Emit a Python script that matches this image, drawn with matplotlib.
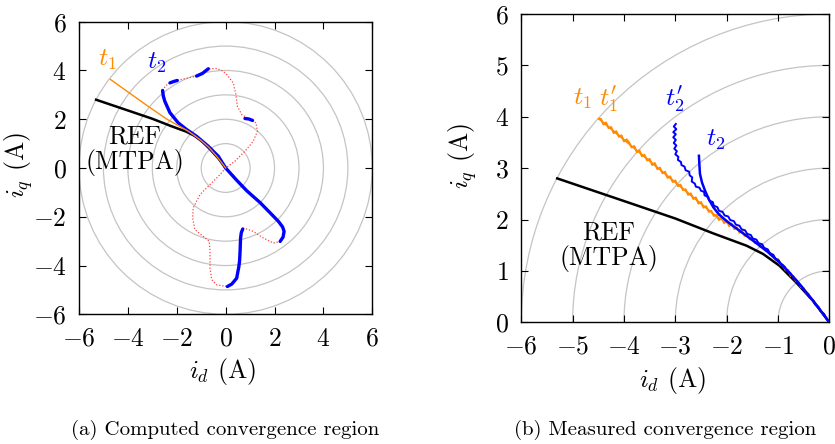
import numpy as np
import matplotlib
matplotlib.use("Agg")
import matplotlib.pyplot as plt
from matplotlib.patches import Circle

plt.rcParams['font.family'] = ['cmr10']
plt.rcParams['mathtext.fontset'] = 'cm'
plt.rcParams['axes.formatter.use_mathtext'] = True

ORANGE = '#ff8a00'
BLUE = '#0000ff'
RED = '#ff4040'
GRID = '#c4c4c4'

circle_radii = [1, 2, 3, 4, 5, 6]

# ---------- (a) computed ----------
mtpa_id = [-5.3, -4.0, -3.0, -2.26, -1.61, -1.29, -0.97, -0.65, -0.32, 0.0]
mtpa_iq = [2.8, 2.36, 2.02, 1.73, 1.49, 1.33, 1.10, 0.78, 0.42, 0.0]

a_t1_id = [-4.71, -3.9, -3.1, -2.4, -1.9, -1.55, -1.26, -0.97, -0.7, -0.35, 0.0]
a_t1_iq = [3.63, 3.05, 2.48, 2.0, 1.72, 1.52, 1.32, 1.10, 0.86, 0.46, 0.0]

a_t2_id = [-2.58, -2.55, -2.49, -2.28, -1.94, -1.6, -1.19, -0.71, -0.3, 0.0,
           0.45, 0.86, 1.41, 1.82, 2.16, 2.33, 2.39, 2.35, 2.23]
a_t2_iq = [3.18, 2.95, 2.74, 2.27, 1.85, 1.58, 1.30, 0.89, 0.48, 0.0,
           -0.5, -0.93, -1.42, -1.84, -2.19, -2.42, -2.6, -2.83, -3.01]

a_low_id = [0.70, 0.64, 0.61, 0.59, 0.57, 0.54, 0.45, 0.25, 0.07]
a_low_iq = [-2.5, -2.65, -2.87, -3.42, -3.8, -4.04, -4.52, -4.76, -4.86]

a_dash1_id = [-2.28, -2.12, -1.98]
a_dash1_iq = [3.49, 3.55, 3.59]
a_dash2_id = [-1.19, -0.95, -0.71]
a_dash2_iq = [3.77, 3.88, 4.07]
a_dash3_id = [0.79, 0.95, 1.1]
a_dash3_iq = [2.03, 2.01, 1.95]

bnd_id = [-2.58, -2.45, -2.28, -1.98, -1.6, -1.19, -0.95, -0.71, -0.37, -0.12, 0.04,
          0.31, 0.42, 0.48, 0.66, 1.0, 1.24, 1.3, 1.13, 0.79, 0.38, 0.0,
          -0.23, -0.64, -1.05, -1.33, -1.35, -1.26, -0.92, -0.67, -0.64, -0.64,
          -0.57, -0.37, 0.07]
bnd_iq = [3.18, 3.38, 3.49, 3.59, 3.68, 3.77, 3.88, 4.07, 4.08, 3.98, 3.84,
          3.49, 3.01, 2.53, 2.19, 1.99, 1.85, 1.51, 1.1, 0.69, 0.28, 0.0,
          -0.27, -0.68, -1.09, -1.64, -2.05, -2.53, -2.8, -3.01, -3.42, -4.11,
          -4.58, -4.79, -4.86]
bnd2_id = [0.70, 0.85, 1.13, 1.54, 1.95, 2.23]
bnd2_iq = [-2.5, -2.5, -2.6, -2.87, -3.08, -3.01]

# ---------- (b) measured ----------
b_t1_id = [-4.49, -2.2, -1.9, -1.6, -1.3, -1.0, -0.7, -0.4, -0.15, 0.0]
b_t1_iq = [3.96, 2.06, 1.88, 1.68, 1.47, 1.20, 0.88, 0.53, 0.2, 0.0]

b_t1p_id = [-4.49, -4.45, -4.40, -4.35, -4.30, -4.25, -4.20, -4.15, -4.10, -4.05,
            -4.00, -3.95, -3.90, -3.85, -3.80, -3.75, -3.70, -3.65, -3.60, -3.55,
            -3.50, -3.45, -3.40, -3.35, -3.30, -3.25, -3.20, -3.15, -3.10, -3.05,
            -3.00, -2.95, -2.90, -2.85, -2.80, -2.75, -2.70, -2.65, -2.60, -2.55,
            -2.50, -2.45, -2.40, -2.35, -2.30, -2.25, -2.20, -2.15, -2.10, -2.05,
            -2.00, -1.95, -1.90, -1.85, -1.80, -1.75, -1.70, -1.65, -1.60, -1.55,
            -1.50, -1.45, -1.40, -1.35, -1.30, -1.25, -1.20, -1.15, -1.10, -1.05,
            -1.00, -0.95, -0.90, -0.85, -0.80, -0.75, -0.70, -0.65, -0.60, -0.55,
            -0.50, -0.45, -0.40, -0.35, -0.30, -0.25, -0.20, -0.15, -0.10, -0.05, 0.0]
b_t1p_iq = [3.96, 3.96, 3.85, 3.89, 3.78, 3.80, 3.68, 3.72, 3.61, 3.64,
            3.52, 3.56, 3.50, 3.40, 3.43, 3.31, 3.35, 3.23, 3.26, 3.15,
            3.18, 3.06, 3.10, 2.98, 3.01, 2.90, 2.93, 2.81, 2.84, 2.73,
            2.76, 2.65, 2.68, 2.57, 2.59, 2.48, 2.51, 2.40, 2.43, 2.31,
            2.34, 2.23, 2.26, 2.15, 2.17, 2.07, 2.09, 1.99, 2.04, 1.93,
            1.98, 1.87, 1.92, 1.81, 1.85, 1.74, 1.78, 1.68, 1.71, 1.61,
            1.64, 1.54, 1.57, 1.47, 1.50, 1.40, 1.41, 1.31, 1.32, 1.22,
            1.23, 1.12, 1.12, 1.01, 1.02, 0.90, 0.90, 0.80, 0.78, 0.68,
            0.67, 0.57, 0.55, 0.45, 0.41, 0.32, 0.28, 0.19, 0.14, 0.07, 0.0]

b_t2_id = [-2.54, -2.53, -2.52, -2.48, -2.42, -2.35, -2.26, -2.15, -2.0, -1.8,
           -1.5, -1.2, -0.9, -0.6, -0.3, 0.0]
b_t2_iq = [3.24, 3.05, 2.89, 2.72, 2.56, 2.40, 2.24, 2.10, 1.97, 1.82,
           1.60, 1.37, 1.10, 0.77, 0.40, 0.0]

b_t2p_id = [-2.99, -3.03, -2.98, -3.04, -2.99, -3.04, -2.99, -3.03, -2.98, -3.02,
            -2.97, -3.00, -2.94, -2.95, -2.89, -2.88, -2.82, -2.80, -2.73, -2.72,
            -2.67, -2.68, -2.62, -2.60, -2.53, -2.50, -2.44, -2.43, -2.36, -2.34,
            -2.27, -2.25, -2.18, -2.15, -2.08, -2.04, -1.97, -1.93, -1.86, -1.82,
            -1.75, -1.71, -1.64, -1.60, -1.53, -1.49, -1.42, -1.38, -1.31, -1.27,
            -1.20, -1.16, -1.09, -1.05, -0.98, -0.94, -0.87, -0.83, -0.76, -0.72,
            -0.65, -0.61, -0.54, -0.50, -0.43, -0.39, -0.32, -0.28, -0.21, -0.17,
            -0.10, -0.06, 0.0]
b_t2p_iq = [3.86, 3.81, 3.76, 3.70, 3.66, 3.60, 3.55, 3.49, 3.44, 3.38,
            3.33, 3.27, 3.22, 3.16, 3.12, 3.06, 3.03, 2.96, 2.93, 2.86,
            2.82, 2.74, 2.70, 2.64, 2.62, 2.56, 2.54, 2.47, 2.44, 2.37,
            2.34, 2.27, 2.24, 2.17, 2.15, 2.08, 2.06, 1.99, 1.97, 1.90,
            1.88, 1.81, 1.79, 1.72, 1.70, 1.63, 1.61, 1.54, 1.52, 1.45,
            1.42, 1.35, 1.31, 1.24, 1.20, 1.12, 1.08, 1.00, 0.96, 0.88,
            0.83, 0.75, 0.70, 0.62, 0.57, 0.49, 0.43, 0.35, 0.30, 0.22,
            0.16, 0.08, 0.0]

FS = 18.5

fig = plt.figure(figsize=(8.35, 4.44), dpi=100)
axa = fig.add_axes([0.0946, 0.2921, 0.3513, 0.659])
axb = fig.add_axes([0.6243, 0.2741, 0.3689, 0.6944])

for ax in (axa, axb):
    for r in circle_radii:
        ax.add_patch(Circle((0, 0), r, fill=False, ec=GRID, lw=0.9, zorder=1))
    ax.tick_params(direction='in', top=True, right=True, length=5, width=0.8,
                   labelsize=FS)
    ax.tick_params(axis='x', pad=9)
    ax.tick_params(axis='y', pad=9)
    for s in ax.spines.values():
        s.set_linewidth(1.0)

# (a)
axa.plot(bnd_id, bnd_iq, color=RED, lw=0.9, ls=(0, (1, 1.5)), zorder=2)
axa.plot(bnd2_id, bnd2_iq, color=RED, lw=0.9, ls=(0, (1, 1.5)), zorder=2)
axa.plot(mtpa_id, mtpa_iq, color='black', lw=1.8, zorder=3)
axa.plot(a_t2_id, a_t2_iq, color=BLUE, lw=2.4, zorder=4, solid_capstyle='round')
axa.plot(a_low_id, a_low_iq, color=BLUE, lw=2.4, zorder=4, solid_capstyle='round')
for xs, ys in ((a_dash1_id, a_dash1_iq), (a_dash2_id, a_dash2_iq), (a_dash3_id, a_dash3_iq)):
    axa.plot(xs, ys, color=BLUE, lw=2.4, zorder=4, solid_capstyle='round')
axa.plot(a_t1_id, a_t1_iq, color=ORANGE, lw=1.0, zorder=5)
axa.set_xlim(-6, 6)
axa.set_ylim(-6, 6)
axa.set_xticks([-6, -4, -2, 0, 2, 4, 6])
axa.set_yticks([-6, -4, -2, 0, 2, 4, 6])
axa.text(-4.84, 4.45, r'$t_1$', color=ORANGE, fontsize=FS, ha='center', va='center')
axa.text(-2.82, 4.3, r'$t_2$', color=BLUE, fontsize=FS, ha='center', va='center')
axa.text(-3.71, 0.72, 'REF\n(MTPA)', fontsize=FS, ha='center', va='center',
         linespacing=1.0)
axa.set_xlabel(r'$i_d$ (A)', fontsize=FS)
axa.set_ylabel(r'$i_q$ (A)', fontsize=FS)
axa.xaxis.set_label_coords(0.49, -0.142)
axa.yaxis.set_label_coords(-0.15, 0.51)

# (b)
axb.plot(mtpa_id, mtpa_iq, color='black', lw=1.8, zorder=3)
axb.plot(b_t1_id, b_t1_iq, color=ORANGE, lw=1.2, zorder=4)
axb.plot(b_t1p_id, b_t1p_iq, color=ORANGE, lw=1.4, zorder=4)
axb.plot(b_t2p_id, b_t2p_iq, color=BLUE, lw=1.4, zorder=5)
axb.plot(b_t2_id, b_t2_iq, color=BLUE, lw=1.8, zorder=5)
axb.set_xlim(-6, 0)
axb.set_ylim(0, 6)
axb.set_xticks([-6, -5, -4, -3, -2, -1, 0])
axb.set_yticks([0, 1, 2, 3, 4, 5, 6])
axb.text(-4.81, 4.35, r'$t_1$', color=ORANGE, fontsize=FS, ha='center', va='center')
axb.text(-4.31, 4.35, r"$t_1'$", color=ORANGE, fontsize=FS, ha='center', va='center')
axb.text(-3.02, 4.35, r"$t_2'$", color=BLUE, fontsize=FS, ha='center', va='center')
axb.text(-2.21, 3.56, r'$t_2$', color=BLUE, fontsize=FS, ha='center', va='center')
axb.text(-4.30, 1.48, 'REF\n(MTPA)', fontsize=FS, ha='center', va='center',
         linespacing=1.0)
axb.set_xlabel(r'$i_d$ (A)', fontsize=FS)
axb.set_ylabel(r'$i_q$ (A)', fontsize=FS)
axb.xaxis.set_label_coords(0.4925, -0.1385)
axb.yaxis.set_label_coords(-0.137, 0.54)

fig.text(225 / 835, 1 - 430 / 444, '(a) Computed convergence region', fontsize=15,
         ha='center', va='center')
fig.text(665 / 835, 1 - 430 / 444, '(b) Measured convergence region', fontsize=15,
         ha='center', va='center')

fig.savefig('out.png', dpi=100)
